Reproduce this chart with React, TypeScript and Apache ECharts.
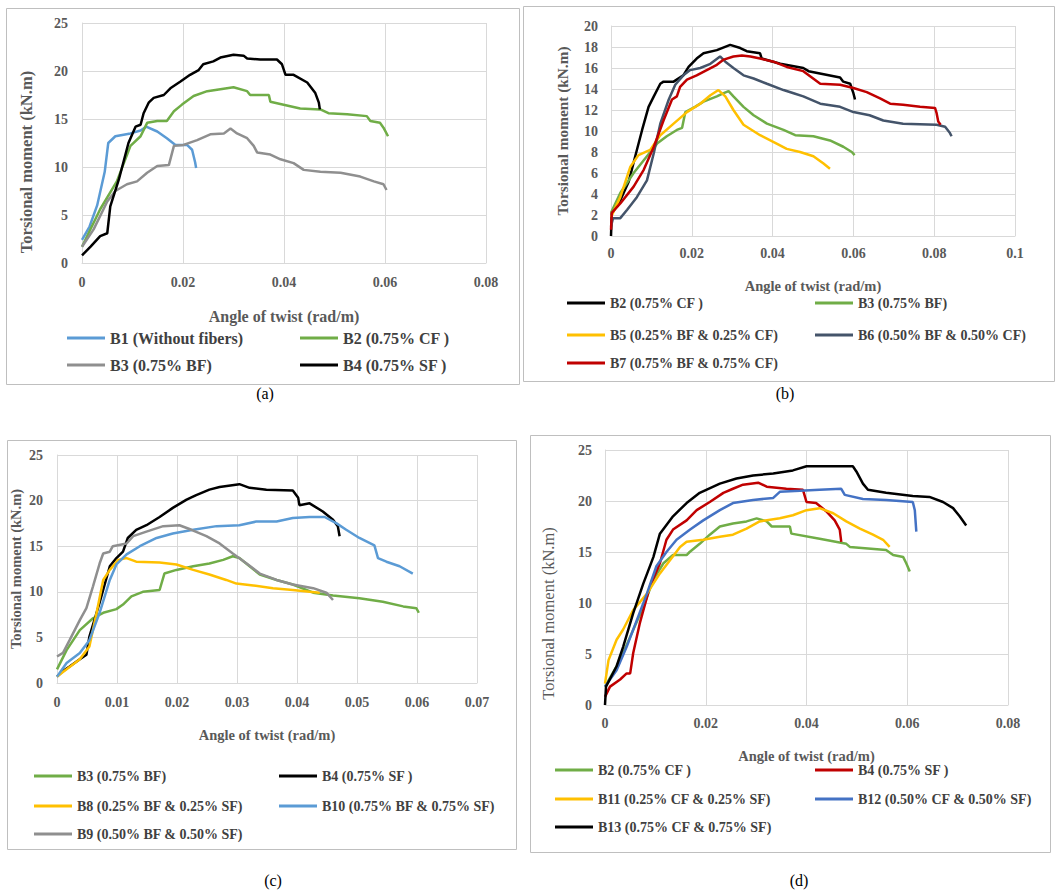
import React, { useEffect, useRef } from "react";
import * as echarts from "echarts";

const FONT = "Liberation Serif, serif";
const TXT = "#595959";
const LEG = "#404040";
const GRIDC = "#d9d9d9";

// ---------- Panel (a) ----------
const A_B1 = [[0,2.4],[0.0015,3.8],[0.003,6.0],[0.0045,9.5],[0.0052,12.5],[0.0066,13.2],[0.0096,13.5],[0.0116,13.8],[0.0127,14.2],[0.0149,13.7],[0.0168,13.0],[0.0185,12.3],[0.0208,12.3],[0.0218,11.8],[0.0224,10.5],[0.0226,9.9]];
const A_B2 = [[0,1.7],[0.0036,5.6],[0.0069,8.5],[0.0096,12.2],[0.0116,13.2],[0.0129,14.6],[0.0149,14.8],[0.0168,14.8],[0.0182,15.8],[0.0198,16.5],[0.0221,17.4],[0.0248,17.9],[0.0274,18.1],[0.03,18.3],[0.0327,17.9],[0.0333,17.5],[0.037,17.5],[0.0373,16.8],[0.0432,16.1],[0.0472,16.0],[0.0488,15.6],[0.0525,15.5],[0.0564,15.3],[0.0571,14.8],[0.059,14.6],[0.0597,14.1],[0.0606,13.2]];
const A_B3 = [[0,1.7],[0.0023,3.5],[0.005,6.4],[0.0066,7.5],[0.0089,8.2],[0.0109,8.5],[0.0129,9.4],[0.0149,10.1],[0.0172,10.2],[0.0182,12.2],[0.0201,12.3],[0.0228,12.8],[0.0254,13.4],[0.0281,13.5],[0.0294,14.0],[0.0307,13.5],[0.0327,13.0],[0.034,12.2],[0.0347,11.5],[0.0373,11.3],[0.0393,10.8],[0.0419,10.4],[0.0439,9.7],[0.0472,9.5],[0.0512,9.4],[0.0551,9.0],[0.0578,8.5],[0.0597,8.2],[0.0603,7.6]];
const A_B4 = [[0,0.8],[0.0017,1.7],[0.0036,2.8],[0.005,3.1],[0.0056,5.9],[0.0073,8.7],[0.0092,12.5],[0.0106,14.2],[0.0116,14.4],[0.0122,15.6],[0.0132,16.7],[0.0142,17.2],[0.0162,17.5],[0.0175,18.2],[0.0195,18.9],[0.0214,19.6],[0.0231,20.1],[0.024,20.7],[0.026,21.0],[0.0274,21.4],[0.03,21.7],[0.032,21.6],[0.0327,21.3],[0.0353,21.2],[0.0386,21.2],[0.0396,20.7],[0.0403,19.6],[0.0419,19.6],[0.0446,18.8],[0.0462,17.7],[0.0469,16.7],[0.0471,16.0]];

// ---------- Panel (b) ----------
const B_B2 = [[0,0],[0.0002,2.2],[0.0023,3.4],[0.0044,5.2],[0.006,7.6],[0.0077,10.1],[0.0093,12.3],[0.0106,13.3],[0.0122,14.5],[0.013,14.7],[0.0155,14.7],[0.0179,15.3],[0.0192,16.1],[0.0212,16.9],[0.0229,17.4],[0.0262,17.7],[0.0295,18.2],[0.032,17.9],[0.0336,17.6],[0.0369,17.4],[0.0373,16.9],[0.0419,16.4],[0.0476,16.0],[0.0489,15.7],[0.0567,15.1],[0.0575,14.7],[0.0592,14.5],[0.06,13.6],[0.0604,13.0]];
const B_B3 = [[0,2.2],[0.0023,4.1],[0.0056,6.0],[0.0089,7.6],[0.0114,8.8],[0.0138,9.5],[0.0163,10.1],[0.0176,10.3],[0.0184,11.8],[0.0208,12.3],[0.0229,12.8],[0.0262,13.3],[0.0279,13.6],[0.0291,13.8],[0.0303,13.3],[0.0328,12.3],[0.0353,11.5],[0.0386,10.7],[0.0427,10.1],[0.0456,9.6],[0.0501,9.5],[0.0542,9.1],[0.0575,8.5],[0.0596,8.0],[0.0603,7.7]];
const B_B5 = [[0,1.8],[0.0023,3.7],[0.0048,6.6],[0.0068,7.7],[0.0097,8.2],[0.0122,9.6],[0.0155,10.7],[0.0188,11.8],[0.0221,12.6],[0.0246,13.4],[0.0266,13.9],[0.0283,13.3],[0.0303,12.0],[0.0328,10.6],[0.0369,9.6],[0.041,8.8],[0.0435,8.3],[0.0468,8.0],[0.0501,7.6],[0.0526,6.9],[0.0542,6.4]];
const B_B6 = [[0,0.9],[0.0005,1.7],[0.0023,1.7],[0.004,2.5],[0.0064,3.7],[0.0089,5.3],[0.0106,7.9],[0.0122,10.7],[0.0143,13.0],[0.0159,14.4],[0.0179,15.3],[0.0196,15.8],[0.0221,16.0],[0.0246,16.4],[0.027,17.1],[0.0283,16.6],[0.0303,16.0],[0.0328,15.3],[0.0353,15.0],[0.0386,14.5],[0.0427,13.9],[0.0452,13.6],[0.0476,13.3],[0.0518,12.6],[0.0567,12.3],[0.06,11.8],[0.064,11.5],[0.0674,11.0],[0.0723,10.7],[0.0806,10.6],[0.0827,10.4],[0.0839,9.8],[0.0843,9.5]];
const B_B7 = [[0,0.6],[0.0002,2.2],[0.0023,3.1],[0.0056,4.7],[0.0081,6.3],[0.0106,8.5],[0.013,11.0],[0.0151,13.0],[0.0163,13.3],[0.0171,14.2],[0.0188,14.9],[0.0212,15.3],[0.0237,15.8],[0.0262,16.3],[0.0279,16.8],[0.0303,17.1],[0.0324,17.2],[0.0345,17.1],[0.0369,16.9],[0.0402,16.6],[0.0435,16.1],[0.0476,15.7],[0.0518,14.5],[0.0567,14.4],[0.06,14.1],[0.0633,13.7],[0.0666,13.1],[0.0691,12.6],[0.0723,12.5],[0.0765,12.3],[0.0802,12.2],[0.0806,11.7],[0.081,10.9],[0.0816,10.6]];

// ---------- Panel (c) ----------
const C_B3 = [[0,1.5],[0.0016,3.6],[0.0038,5.8],[0.006,7.1],[0.0077,7.7],[0.0099,8.1],[0.011,8.6],[0.0124,9.5],[0.0143,10.0],[0.0171,10.2],[0.0179,12.0],[0.0199,12.4],[0.0227,12.8],[0.0254,13.1],[0.0277,13.5],[0.0293,13.9],[0.0304,13.7],[0.0321,12.8],[0.0338,11.9],[0.0366,11.3],[0.0393,10.8],[0.0427,9.9],[0.046,9.6],[0.0504,9.3],[0.0543,8.9],[0.0577,8.4],[0.0599,8.2],[0.0603,7.7]];
const C_B4 = [[0,0.7],[0.001,1.3],[0.0021,1.8],[0.0038,2.6],[0.0049,3.1],[0.0054,5.1],[0.0071,8.8],[0.0088,12.8],[0.0099,13.7],[0.011,14.4],[0.0118,15.9],[0.0132,16.8],[0.0149,17.3],[0.0171,18.2],[0.0193,19.2],[0.0216,20.1],[0.0232,20.6],[0.0254,21.2],[0.0271,21.5],[0.0304,21.8],[0.0321,21.4],[0.0349,21.2],[0.0393,21.1],[0.0402,20.3],[0.0404,19.5],[0.0421,19.7],[0.0443,18.8],[0.046,17.9],[0.0468,17.2],[0.0471,16.1]];
const C_B8 = [[0,0.7],[0.0016,1.5],[0.0038,2.6],[0.0054,4.0],[0.0066,7.7],[0.0077,11.3],[0.0088,12.4],[0.0102,13.5],[0.0116,13.7],[0.0132,13.3],[0.0171,13.2],[0.0199,13.0],[0.0227,12.4],[0.0254,11.9],[0.0282,11.3],[0.0299,10.9],[0.0327,10.7],[0.036,10.4],[0.0393,10.2],[0.0421,10.0],[0.0438,9.9]];
const C_B10 = [[0,0.7],[0.0016,2.2],[0.0038,3.3],[0.0054,4.7],[0.0071,7.7],[0.0088,11.3],[0.0099,13.0],[0.0116,14.1],[0.0138,15.0],[0.0166,15.9],[0.0193,16.4],[0.0227,16.8],[0.0266,17.2],[0.0304,17.3],[0.0332,17.7],[0.0366,17.7],[0.0393,18.1],[0.0421,18.2],[0.0446,18.2],[0.0466,17.5],[0.0482,16.8],[0.0504,15.9],[0.0529,15.1],[0.0535,13.7],[0.0549,13.3],[0.0571,12.8],[0.0593,12.0]];
const C_B9 = [[0,2.9],[0.001,3.3],[0.0021,4.7],[0.0038,6.9],[0.0049,8.2],[0.006,10.6],[0.0071,13.1],[0.0077,14.2],[0.0088,14.4],[0.0093,15.0],[0.0116,15.3],[0.0127,16.1],[0.0149,16.6],[0.0177,17.2],[0.0204,17.3],[0.0224,16.8],[0.0249,16.1],[0.0271,15.3],[0.0293,14.2],[0.0316,13.1],[0.0338,12.0],[0.0366,11.3],[0.0393,10.8],[0.0427,10.4],[0.0449,9.9],[0.046,9.1]];

// ---------- Panel (d) ----------
const D_B2 = [[0,1.8],[0.003,4.4],[0.005,6.7],[0.0076,9.6],[0.0096,12.3],[0.0116,13.9],[0.0135,14.7],[0.0162,14.7],[0.0168,15.0],[0.0188,15.8],[0.0208,16.7],[0.0228,17.5],[0.0254,17.8],[0.0281,18.0],[0.0301,18.3],[0.0321,18.0],[0.0331,17.5],[0.0367,17.5],[0.037,16.8],[0.0426,16.3],[0.0479,15.8],[0.0486,15.5],[0.0558,15.2],[0.0572,14.7],[0.0592,14.5],[0.0598,13.9],[0.0605,13.1]];
const D_B4 = [[0,0.8],[0.001,1.8],[0.003,2.5],[0.0043,3.1],[0.005,3.1],[0.0056,5.1],[0.0069,8.0],[0.0089,11.6],[0.0109,13.9],[0.0122,16.2],[0.0135,17.2],[0.0162,18.1],[0.0182,19.1],[0.0208,19.9],[0.0235,20.8],[0.0254,21.2],[0.0274,21.6],[0.0304,21.8],[0.0321,21.4],[0.036,21.2],[0.0393,21.1],[0.04,19.9],[0.0419,19.8],[0.0439,19.0],[0.0456,18.1],[0.0466,17.2],[0.0469,16.0]];
const D_B11 = [[0,2.1],[0.0007,4.4],[0.0023,6.4],[0.0036,7.4],[0.0056,9.3],[0.0083,10.9],[0.0109,12.9],[0.0129,14.2],[0.0149,15.5],[0.0162,16.0],[0.0195,16.2],[0.0228,16.5],[0.0254,16.7],[0.0281,17.3],[0.0307,18.0],[0.0347,18.3],[0.0373,18.6],[0.04,19.1],[0.0426,19.3],[0.0453,18.8],[0.0479,18.0],[0.0506,17.3],[0.0532,16.7],[0.0552,16.2],[0.0565,15.5]];
const D_B12 = [[0,1.8],[0.0023,3.4],[0.0043,5.7],[0.0063,8.3],[0.0083,10.9],[0.0102,13.6],[0.0122,15.0],[0.0142,16.2],[0.0169,17.2],[0.0195,18.1],[0.0228,19.1],[0.0254,19.8],[0.0294,20.1],[0.0334,20.3],[0.0347,20.9],[0.0387,21.0],[0.0426,21.1],[0.0469,21.2],[0.0476,20.6],[0.0512,20.2],[0.0558,20.1],[0.0611,19.9],[0.0615,19.1],[0.0618,17.0]];
const D_B13 = [[0,0],[0.0002,1.8],[0.0023,3.8],[0.0036,5.7],[0.0056,9.0],[0.0076,11.9],[0.0096,14.5],[0.0109,16.8],[0.0135,18.5],[0.0162,19.8],[0.0188,20.8],[0.0228,21.7],[0.0261,22.2],[0.0294,22.5],[0.0334,22.7],[0.0373,23.0],[0.04,23.4],[0.0426,23.4],[0.0466,23.4],[0.0492,23.4],[0.0499,22.9],[0.0512,21.7],[0.0522,21.1],[0.0558,20.8],[0.0611,20.5],[0.0644,20.4],[0.0671,19.9],[0.0691,19.3],[0.0704,18.5],[0.0717,17.6]];

const C = {
  blue: "#5b9bd5", green: "#70ad47", grey: "#8f8f8f", black: "#000000",
  yellow: "#ffc000", slate: "#44546a", red: "#c00000", dblue: "#4472c4",
};

const fmtX = (v: number) => (v === 0 ? "0" : String(Number(v.toFixed(3))));

function xAx(i: number, max: number, interval: number, margin: number, nameGap: number, nameSize: number, nameBold: boolean, labelSize: number) {
  return {
    type: "value", gridIndex: i, min: 0, max, interval,
    name: "Angle of twist (rad/m)", nameLocation: "middle", nameGap,
    nameTextStyle: { fontFamily: FONT, fontSize: nameSize, fontWeight: nameBold ? "bold" : "normal", color: TXT },
    axisLine: { show: true, lineStyle: { color: GRIDC, width: 1 } },
    axisTick: { show: false },
    axisLabel: { margin, fontFamily: FONT, fontSize: labelSize, fontWeight: "bold", color: TXT, formatter: fmtX },
    splitLine: { show: true, lineStyle: { color: GRIDC, width: 1 } },
  };
}
function yAx(i: number, max: number, interval: number, margin: number, nameGap: number, nameSize: number, nameBold: boolean, labelSize: number, shiftDown: number) {
  return {
    type: "value", gridIndex: i, min: 0, max, interval,
    name: "Torsional moment (kN.m)", nameLocation: "middle", nameGap,
    nameTextStyle: {
      fontFamily: FONT, fontSize: nameSize, fontWeight: nameBold ? "bold" : "normal", color: TXT,
      padding: [0, shiftDown * 2, 0, 0],
    },
    axisLine: { show: true, lineStyle: { color: GRIDC, width: 1 } },
    axisTick: { show: false },
    axisLabel: { margin, fontFamily: FONT, fontSize: labelSize, fontWeight: "bold", color: TXT },
    splitLine: { show: true, lineStyle: { color: GRIDC, width: 1 } },
  };
}
function ser(name: string, data: number[][], color: string, i: number) {
  return {
    type: "line", name, data, xAxisIndex: i, yAxisIndex: i, showSymbol: false, symbol: "none",
    lineStyle: { color, width: 2.5 }, itemStyle: { color }, silent: true,
  };
}
function leg(name: string, color: string, left: number, cy: number, size: number) {
  return {
    show: true, left, top: cy - size / 2 - 1, padding: 0, icon: "rect", itemWidth: 38, itemHeight: 3,
    selectedMode: false,
    data: [{ name, icon: "rect", itemStyle: { color }, lineStyle: { color } }],
    textStyle: { fontFamily: FONT, fontSize: size, fontWeight: "bold", color: LEG },
  };
}
function box(x: number, y: number, w: number, h: number) {
  return { type: "rect", shape: { x, y, width: w, height: h }, style: { fill: "none", stroke: "#bfbfbf", lineWidth: 1 }, silent: true };
}
function cap(t: string, x: number, y: number) {
  return { type: "text", x, y, style: { text: t, fontFamily: FONT, fontSize: 16, fill: "#000", textAlign: "center", textVerticalAlign: "middle" }, silent: true };
}

export default function App() {
  const ref = useRef<HTMLDivElement>(null);
  useEffect(() => {
    if (!ref.current) return;
    const chart = echarts.init(ref.current, null, { renderer: "svg" });
    const option: any = {
      animation: false,
      backgroundColor: "#ffffff",
      textStyle: { fontFamily: FONT },
      grid: [
        { left: 82, top: 23, width: 404, height: 240 },
        { left: 611, top: 26, width: 404, height: 210 },
        { left: 57, top: 455, width: 420, height: 228 },
        { left: 605, top: 450, width: 403, height: 255 },
      ],
      xAxis: [
        xAx(0, 0.08, 0.02, 12, 45, 16, true, 14),
        xAx(1, 0.1, 0.02, 10, 42, 14.5, true, 14),
        xAx(2, 0.07, 0.01, 12, 44, 14.5, true, 14),
        xAx(3, 0.08, 0.02, 11, 43, 14.5, true, 14),
      ],
      yAxis: [
        yAx(0, 25, 5, 14, 47, 16.5, true, 14, 19),
        yAx(1, 20, 2, 13, 41, 15.3, true, 14, 0),
        yAx(2, 25, 5, 14, 34, 14.5, true, 14, 0),
        yAx(3, 25, 5, 13, 48, 16.5, false, 14, 36),
      ],
      legend: [
        leg("B1 (Without fibers)", C.blue, 67, 339, 16),
        leg("B2 (0.75% CF )", C.green, 300, 339, 16),
        leg("B3 (0.75% BF)", C.grey, 67, 366, 16),
        leg("B4 (0.75% SF )", C.black, 300, 366, 16),

        leg("B2 (0.75% CF )", C.black, 567, 304, 14),
        leg("B3 (0.75% BF)", C.green, 815, 304, 14),
        leg("B5 (0.25% BF & 0.25% CF)", C.yellow, 567, 336, 14),
        leg("B6 (0.50% BF & 0.50% CF)", C.slate, 815, 336, 14),
        leg("B7 (0.75% BF & 0.75% CF)", C.red, 567, 364, 14),

        leg("B3 (0.75% BF)", C.green, 34, 777, 14),
        leg("B4 (0.75% SF )", C.black, 279, 777, 14),
        leg("B8 (0.25% BF & 0.25% SF)", C.yellow, 34, 807, 14),
        leg("B10 (0.75% BF & 0.75% SF)", C.blue, 279, 807, 14),
        leg("B9 (0.50% BF & 0.50% SF)", C.grey, 34, 835, 14),

        leg("B2 (0.75% CF )", C.green, 555, 771, 14),
        leg("B4 (0.75% SF )", C.red, 815, 771, 14),
        leg("B11 (0.25% CF & 0.25% SF)", C.yellow, 555, 800, 14),
        leg("B12 (0.50% CF & 0.50% SF)", C.dblue, 815, 800, 14),
        leg("B13 (0.75% CF & 0.75% SF)", C.black, 555, 828, 14),
      ],
      series: [
        ser("B1 (Without fibers)", A_B1, C.blue, 0),
        ser("B2 (0.75% CF )", A_B2, C.green, 0),
        ser("B3 (0.75% BF)", A_B3, C.grey, 0),
        ser("B4 (0.75% SF )", A_B4, C.black, 0),

        ser("B2 (0.75% CF )", B_B2, C.black, 1),
        ser("B3 (0.75% BF)", B_B3, C.green, 1),
        ser("B5 (0.25% BF & 0.25% CF)", B_B5, C.yellow, 1),
        ser("B6 (0.50% BF & 0.50% CF)", B_B6, C.slate, 1),
        ser("B7 (0.75% BF & 0.75% CF)", B_B7, C.red, 1),

        ser("B3 (0.75% BF)", C_B3, C.green, 2),
        ser("B4 (0.75% SF )", C_B4, C.black, 2),
        ser("B8 (0.25% BF & 0.25% SF)", C_B8, C.yellow, 2),
        ser("B10 (0.75% BF & 0.75% SF)", C_B10, C.blue, 2),
        ser("B9 (0.50% BF & 0.50% SF)", C_B9, C.grey, 2),

        ser("B2 (0.75% CF )", D_B2, C.green, 3),
        ser("B4 (0.75% SF )", D_B4, C.red, 3),
        ser("B11 (0.25% CF & 0.25% SF)", D_B11, C.yellow, 3),
        ser("B12 (0.50% CF & 0.50% SF)", D_B12, C.dblue, 3),
        ser("B13 (0.75% CF & 0.75% SF)", D_B13, C.black, 3),
      ],
      graphic: [
        box(6.5, 8.5, 513, 376),
        box(523.5, 6.5, 531, 375),
        box(7.5, 440.5, 509, 409),
        box(530.5, 435.5, 520, 417),
        cap("(a)", 265, 393),
        cap("(b)", 785, 393),
        cap("(c)", 273, 880),
        cap("(d)", 799, 880),
      ],
    };
    chart.setOption(option);
    return () => chart.dispose();
  }, []);
  return (
    <div
      ref={ref}
      style={{ position: "absolute", left: 0, top: 0, width: 1057, height: 891, background: "#fff" }}
    />
  );
}
